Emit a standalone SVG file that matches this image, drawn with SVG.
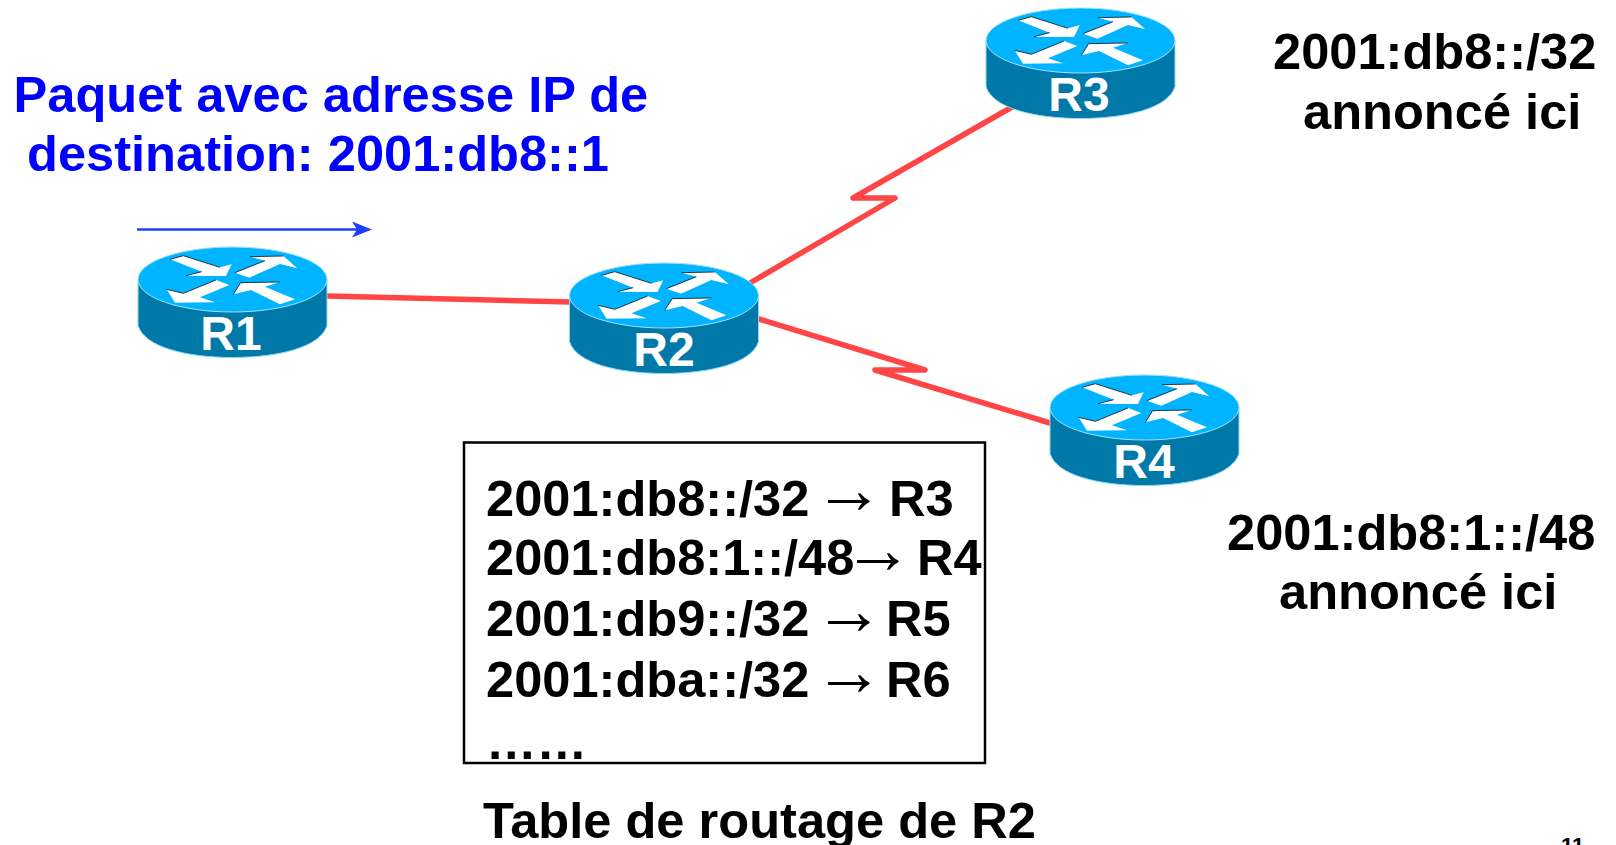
<svg xmlns="http://www.w3.org/2000/svg" width="1616" height="845" viewBox="0 0 1616 845">
<style>
text{font-family:"Liberation Sans",Arial,sans-serif;font-weight:700;font-size:50.600px;fill:#000}
.blue{fill:#0000ff}
text.rl{font-size:48px;fill:#fff;text-anchor:middle}
.arw{font-size:70px}
text.pg{font-size:22px}
.link{fill:none;stroke:#ff4545;stroke-width:5.500;stroke-linecap:round;stroke-linejoin:round}
.ar{fill:#fff}
.sh{fill:none;stroke:#000;stroke-width:2.200}
</style>
<defs>
<marker id="head" markerWidth="20" markerHeight="16" refX="16" refY="8" orient="auto" markerUnits="userSpaceOnUse" viewBox="0 0 20 16">
<path d="M0 0L20 8L0 16L5 8Z" fill="#1f3cff"/>
</marker>
<g id="router">
<path d="M-94.500 0V46C-88 68 -45 78 0 78C45 78 88 68 94.500 46V0Z" fill="#0079a9" stroke="#8fd8f5" stroke-width="1"/>
<ellipse cx="0" cy="0" rx="94.500" ry="32.500" fill="#00b4ff" stroke="#9fe2ff" stroke-width="1"/>
<g transform="scale(.3333) translate(-337.500 -208.500)">
<polygon class="ar" points="150,148 190,137 300,172 335,163 318,198 198,197 245,185"/>
<polygon class="ar" points="345,188 435,152 390,140 490,138 532,175 480,162 388,203"/>
<polygon class="ar" points="190,250 288,210 328,225 240,262 285,277 165,278 140,238"/>
<polygon class="ar" points="525,268 480,283 393,240 340,253 362,218 480,216 435,230"/>
<path class="sh" d="M150 148L190 137L300 172M198 197L245 185M345 188L435 152M390 140L490 138M190 250L288 210M140 238L190 250M340 253L362 218L480 216"/>
</g>
</g>
</defs>
<g id="connectors">
<path class="link" d="M327 296L570 302"/>
<path class="link" d="M750 283L895 198H853L1012 107"/>
<path class="link" d="M759 319L925 370H875L1050 423"/>
<path d="M137 229.500H368" fill="none" stroke="#1f3cff" stroke-width="2.500" marker-end="url(#head)"/>
</g>
<g id="R1"><use href="#router" x="232.500" y="279.500"/><text class="rl" x="231" y="350">R1</text></g>
<g id="R2"><use href="#router" x="664" y="295.500"/><text class="rl" x="664" y="366">R2</text></g>
<g id="R3"><use href="#router" x="1080.500" y="40.500"/><text class="rl" x="1079" y="111">R3</text></g>
<g id="R4"><use href="#router" x="1144.500" y="407.500"/><text class="rl" x="1144" y="478">R4</text></g>
<g id="note-packet">
<text class="blue" x="13.500" y="112">Paquet avec adresse IP de</text>
<text class="blue" x="27" y="171">destination: 2001:db8::1</text>
</g>
<g id="note-r3">
<text x="1273" y="69">2001:db8::/32</text>
<text x="1303" y="129">annoncé ici</text>
</g>
<g id="note-r4">
<text x="1227" y="550">2001:db8:1::/48</text>
<text x="1279" y="609">annoncé ici</text>
</g>
<g id="table">
<rect x="464" y="442.500" width="521" height="320.500" fill="#fff" stroke="#000" stroke-width="2.500"/>
<text><tspan x="486" y="516">2001:db8::/32</tspan><tspan class="arw" x="814" y="513">→</tspan><tspan x="889" y="516">R3</tspan></text>
<text><tspan x="486" y="575">2001:db8:1::/48</tspan><tspan class="arw" x="843" y="573">→</tspan><tspan x="917" y="575">R4</tspan></text>
<text><tspan x="486" y="636">2001:db9::/32</tspan><tspan class="arw" x="814" y="634">→</tspan><tspan x="886" y="636">R5</tspan></text>
<text><tspan x="486" y="697">2001:dba::/32</tspan><tspan class="arw" x="814" y="695">→</tspan><tspan x="886" y="697">R6</tspan></text>
<text x="486" y="759">……</text>
</g>
<text id="table-title" x="483" y="838">Table de routage de R2</text>
<text class="pg" id="page" x="1561" y="853">11</text>
</svg>
